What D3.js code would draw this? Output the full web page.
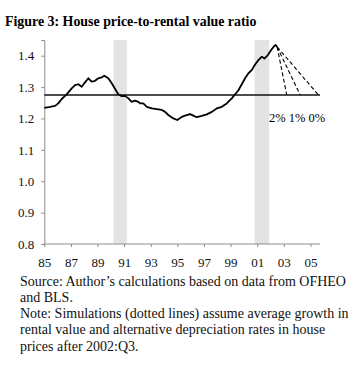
<!DOCTYPE html>
<html>
<head>
<meta charset="utf-8">
<script src="https://cdn.jsdelivr.net/npm/d3@7"></script>
<style>
  body { margin: 0; background: #fff; }
  svg { display: block; font-family: "Liberation Serif", "Times New Roman", serif; }
</style>
</head>
<body>
<div id="chart"></div>
<script>
'use strict'

// ---- data ----
const years = [1985.0, 1985.43, 1985.8, 1986.05, 1986.31, 1986.68, 1987.06, 1987.31, 1987.56, 1987.81,
    1988.06, 1988.31, 1988.56, 1988.81, 1989.06, 1989.32, 1989.51, 1989.81, 1990.07, 1990.32,
    1990.56, 1990.82, 1991.07, 1991.32, 1991.57, 1991.82, 1992.07, 1992.2, 1992.44, 1992.7,
    1993.08, 1993.45, 1993.83, 1994.08, 1994.32, 1994.7, 1995.0, 1995.33, 1995.58, 1995.95,
    1996.2, 1996.46, 1996.83, 1997.21, 1997.59, 1997.96, 1998.34, 1998.71, 1999.09, 1999.34,
    1999.59, 1999.84, 2000.09, 2000.34, 2000.59, 2000.84, 2001.09, 2001.35, 2001.54, 2001.8,
    2002.05, 2002.22, 2002.38, 2002.5]
const ratio = [1.234, 1.237, 1.240, 1.248, 1.262, 1.277, 1.296, 1.306, 1.309, 1.301,
    1.315, 1.328, 1.317, 1.320, 1.328, 1.331, 1.336, 1.328, 1.312, 1.294,
    1.277, 1.271, 1.272, 1.264, 1.253, 1.257, 1.253, 1.248, 1.248, 1.237,
    1.232, 1.230, 1.227, 1.221, 1.211, 1.200, 1.195, 1.205, 1.209, 1.214,
    1.209, 1.204, 1.208, 1.213, 1.221, 1.232, 1.237, 1.248, 1.264, 1.277,
    1.290, 1.309, 1.328, 1.344, 1.354, 1.372, 1.386, 1.397, 1.391, 1.402,
    1.418, 1.428, 1.434, 1.428]

// simulations after 2002:Q3 (start and end of each dashed line)
const simLabels = ["2%", "1%", "0%"]
const simYears = [[2002.5, 2003.22], [2002.5, 2004.23], [2002.5, 2005.6]]
const simValues = [[1.428, 1.275], [1.428, 1.275], [1.428, 1.275]]

const average = 1.275
const recessions = [[1990.2, 1991.2], [2000.8, 2001.9]]

const xTicks = [1985, 1987, 1989, 1991, 1993, 1995, 1997, 1999, 2001, 2003, 2005]
const yTicks = [0.8, 0.9, 1.0, 1.1, 1.2, 1.3, 1.4]

const title = "Figure 3: House price-to-rental value ratio"
const notes = [
    "Source: Author\u2019s calculations based on data from OFHEO",
    "and BLS.",
    "Note: Simulations (dotted lines) assume average growth in",
    "rental value and alternative depreciation rates in house",
    "prices after 2002:Q3."
]

////////////////////////////////////
//////////// svg setup /////////////
////////////////////////////////////
const svgWidth = 350
const svgHeight = 378

const svg = d3.select('#chart')
    .append('svg')
    .attr('width', svgWidth)
    .attr('height', svgHeight)

const x = d3.scaleLinear()
    .domain([1985, 2005.72])
    .range([44.3, 320])

const y = d3.scaleLinear()
    .domain([0.8, 1.45])
    .range([244, 40])

// title
svg.append('text')
    .attr('x', 5)
    .attr('y', 26)
    .attr('font-size', '13.9px')
    .attr('font-weight', 'bold')
    .text(title)

// recession bars
svg.selectAll('.recession')
    .data(recessions)
    .join('rect')
    .attr('class', 'recession')
    .attr('x', d => x(d[0]))
    .attr('width', d => x(d[1]) - x(d[0]))
    .attr('y', y(1.45))
    .attr('height', y(0.8) - y(1.45))
    .attr('fill', '#e3e3e3')

////////////////////////////////////
//////////// Axis ////////////
////////////////////////////////////
const xAxis = d3.axisBottom(x)
    .tickValues(xTicks)
    .tickSize(3)
    .tickPadding(11)
    .tickFormat(d => String(d % 100).padStart(2, '0'))

const gx = svg.append('g')
    .attr('transform', `translate(0,${y(0.8)})`)
    .call(xAxis)
gx.select('.domain').attr('d', `M${x(1985)},0H${x(2005.72)}`)

const yAxis = d3.axisLeft(y)
    .tickValues(yTicks)
    .tickSize(3)
    .tickPadding(7)
    .tickFormat(d3.format('.1f'))

svg.append('g')
    .attr('transform', `translate(${x(1985)},0)`)
    .call(yAxis)

svg.selectAll('.domain, .tick line').attr('stroke', '#8c8c8c')
svg.selectAll('.tick text')
    .attr('font-family', '"Liberation Serif", "Times New Roman", serif')
    .attr('font-size', '13px')
    .attr('fill', '#111')

// average line
svg.append('line')
    .attr('x1', x(1985))
    .attr('x2', x(2005.72))
    .attr('y1', y(average))
    .attr('y2', y(average))
    .attr('stroke', '#111')
    .attr('stroke-width', 1.5)

// main series
const series = years.map((d, i) => ({ x: d, y: ratio[i] }))
svg.append('path')
    .datum(series)
    .attr('fill', 'none')
    .attr('stroke', '#000')
    .attr('stroke-width', 1.8)
    .attr('stroke-linejoin', 'round')
    .attr('d', d3.line().x(d => x(d.x)).y(d => y(d.y)))

// simulations
simYears.forEach((ys, k) => {
    const pts = ys.map((d, i) => ({ x: d, y: simValues[k][i] }))
    svg.append('path')
        .datum(pts)
        .attr('fill', 'none')
        .attr('stroke', '#000')
        .attr('stroke-width', 1.1)
        .attr('stroke-dasharray', '4,2.5')
        .attr('d', d3.line().x(d => x(d.x)).y(d => y(d.y)))
})

svg.append('text')
    .attr('x', 269)
    .attr('y', 122)
    .attr('font-size', '12.5px')
    .text(simLabels.join(' '))

// notes
svg.selectAll('.note')
    .data(notes)
    .join('text')
    .attr('class', 'note')
    .attr('x', 20)
    .attr('y', (d, i) => 285.5 + i * 16.3)
    .attr('font-size', '14px')
    .attr('fill', '#111')
    .text(d => d)
</script>
</body>
</html>
